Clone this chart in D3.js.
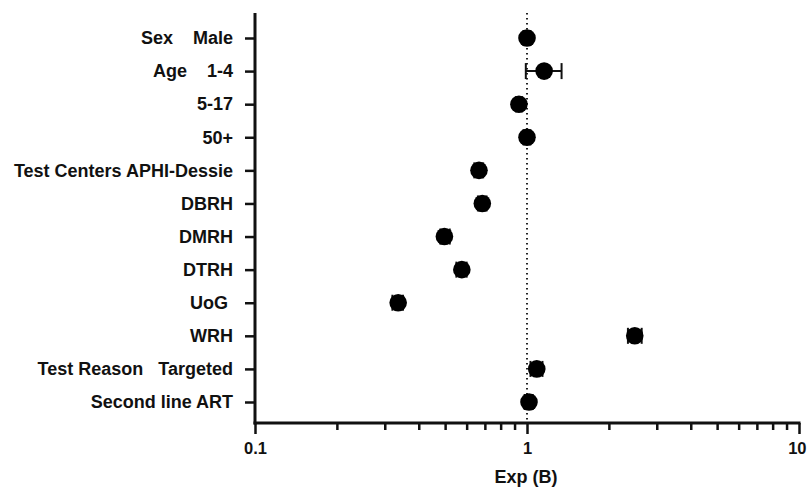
<!DOCTYPE html>
<html>
<head>
<meta charset="utf-8">
<script src="https://cdn.jsdelivr.net/npm/d3@7"></script>
<style>
  body { margin: 0; background: #fff; }
  text { font-family: "Liberation Sans", Arial, sans-serif; font-weight: bold; fill: #111; }
</style>
</head>
<body>
<div id="chart"></div>
<script>
// data (odds ratio, Exp(B))
const labels = ["Sex    Male", "Age    1-4", "5-17", "50+", "Test Centers APHI-Dessie", "DBRH",
                "DMRH", "DTRH", "UoG ", "WRH", "Test Reason   Targeted", "Second line ART"];
const values = [1.0, 1.156, 0.934, 1.0, 0.666, 0.685, 0.497, 0.576, 0.336, 2.49, 1.086, 1.017];
const lower  = [0.97, 0.99, 0.91, 0.97, 0.64, 0.66, 0.48, 0.55, 0.32, 2.35, 1.03, 0.98];
const upper  = [1.03, 1.34, 0.96, 1.03, 0.69, 0.71, 0.52, 0.60, 0.35, 2.64, 1.14, 1.05];
const majorTicks = [0.1, 1, 10];
const minorTicks = [0.2, 0.3, 0.4, 0.5, 0.6, 0.7, 0.8, 0.9, 2, 3, 4, 5, 6, 7, 8, 9];

const width = 807, height = 487;
const mLeft = 255, mRight = 799, mTop = 13, mBottom = 423;

const svg = d3.select('#chart').append('svg')
    .attr('width', width)
    .attr('height', height);

const x = d3.scaleLog().domain([0.1, 10]).range([mLeft, mRight]);
const y = d3.scalePoint().domain(labels).range([38, 402]);

// reference line at 1
svg.append('line')
    .attr('x1', x(1)).attr('x2', x(1))
    .attr('y1', mTop).attr('y2', mBottom)
    .attr('stroke', '#222')
    .attr('stroke-width', 2)
    .attr('stroke-dasharray', '1.6,3.4');

// x axis
const gx = svg.append('g').attr('transform', `translate(0,${mBottom})`);
gx.call(d3.axisBottom(x).tickValues(majorTicks).tickFormat(d3.format('')).tickSize(11).tickPadding(7).tickSizeOuter(0))
gx.append('g')
    .call(d3.axisBottom(x).tickValues(minorTicks).tickFormat('').tickSize(7).tickSizeOuter(0))
    .select('.domain').remove();
gx.selectAll('.domain').attr('stroke', '#111').attr('stroke-width', 3)
    .attr('d', `M${mLeft - 1.5},0H${mRight + 1.5}`);
gx.selectAll('.tick line').attr('stroke', '#111').attr('stroke-width', 2.5);
gx.selectAll('.tick text').attr('font-size', 16.5).attr('dy', '0.8em')
    .style('font-family', '"Liberation Sans", Arial, sans-serif').style('font-weight', 'bold');
// last label sits against the right edge
gx.selectAll('.tick text').filter(d => d === 10)
    .attr('text-anchor', 'end').attr('x', 7);

svg.append('text')
    .attr('x', x(1) - 1).attr('y', 483)
    .attr('text-anchor', 'middle')
    .attr('font-size', 18)
    .text('Exp (B)');

// y axis
const gy = svg.append('g').attr('transform', `translate(${mLeft},0)`);
gy.call(d3.axisLeft(y).tickSize(10).tickPadding(12).tickSizeOuter(0));
gy.select('.domain').attr('stroke', '#111').attr('stroke-width', 3)
    .attr('d', `M0,${mTop}V${mBottom + 1.5}`);
gy.selectAll('.tick line').attr('stroke', '#111').attr('stroke-width', 2.5);
gy.selectAll('.tick text')
    .attr('font-size', 18)
    .style('white-space', 'pre')
    .style('font-family', '"Liberation Sans", Arial, sans-serif').style('font-weight', 'bold');

// error bars
const rows = labels.map((l, i) => ({ label: l, v: values[i], lo: lower[i], hi: upper[i] }));
const eb = svg.append('g').attr('stroke', '#111').attr('stroke-width', 2);
eb.selectAll('line.ci').data(rows).join('line')
    .attr('class', 'ci')
    .attr('x1', d => x(d.lo)).attr('x2', d => x(d.hi))
    .attr('y1', d => y(d.label)).attr('y2', d => y(d.label));
eb.selectAll('line.lo').data(rows).join('line')
    .attr('class', 'lo')
    .attr('x1', d => x(d.lo)).attr('x2', d => x(d.lo))
    .attr('y1', d => y(d.label) - 8).attr('y2', d => y(d.label) + 8);
eb.selectAll('line.hi').data(rows).join('line')
    .attr('class', 'hi')
    .attr('x1', d => x(d.hi)).attr('x2', d => x(d.hi))
    .attr('y1', d => y(d.label) - 8).attr('y2', d => y(d.label) + 8);

// points
svg.append('g').selectAll('circle').data(rows).join('circle')
    .attr('cx', d => x(d.v))
    .attr('cy', d => y(d.label))
    .attr('r', 8.8)
    .attr('fill', '#000');
</script>
</body>
</html>
